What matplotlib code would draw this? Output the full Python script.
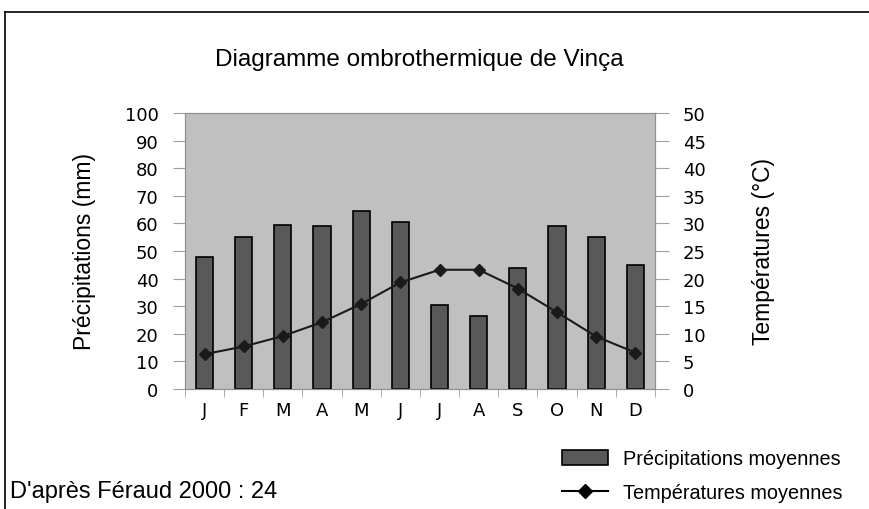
import numpy as np
import matplotlib.pyplot as plt
from matplotlib.patches import Patch
from matplotlib.lines import Line2D

plt.rcParams['font.family'] = ['Liberation Sans', 'DejaVu Sans']

months = ["J", "F", "M", "A", "M", "J", "J", "A", "S", "O", "N", "D"]
precip_mm = [48, 55, 59.5, 59, 64.5, 60.5, 30.5, 26.5, 44, 59, 55, 45]
temp_c = [6.3, 7.7, 9.6, 12.1, 15.4, 19.3, 21.6, 21.6, 18.2, 13.9, 9.5, 6.6]

wide = ['DejaVu Sans']

fig = plt.figure(figsize=(8.7, 5.1), dpi=100)
ax = fig.add_axes([0.2126, 0.2353, 0.5402, 0.5412])
x = np.arange(len(months))

ax.set_facecolor("#c0c0c0")
ax.bar(x, precip_mm, width=0.44, color="#595959", edgecolor="black", linewidth=1.2, zorder=2)
ax.set_xlim(-0.5, len(months) - 0.5)
ax.set_ylim(0, 100)
ax.set_yticks(range(0, 101, 10))
ax.set_xticks(x)
ax.set_xticklabels(months, fontsize=13, family=wide)
ax.set_xticks(np.arange(-0.5, len(months), 1), minor=True)
ax.tick_params(axis="x", which="major", length=0, pad=9)
ax.tick_params(axis="x", which="minor", length=6, color="#a0a0a0")
ax.tick_params(axis="y", length=9, color="#a0a0a0", pad=10)
for lab in ax.get_yticklabels():
    lab.set_fontsize(13)
    lab.set_family(wide)
for s in ax.spines.values():
    s.set_color("#909090")
ax.set_ylabel("Précipitations (mm)", fontsize=16.5, labelpad=21)

ax2 = ax.twinx()
ax2.plot(x, temp_c, color="#1a1a1a", linewidth=1.5, marker="D", markersize=6,
         markerfacecolor="#1a1a1a", zorder=3)
ax2.set_ylim(0, 50)
ax2.set_yticks(range(0, 51, 5))
ax2.tick_params(axis="y", length=10, color="#a0a0a0", pad=10)
for lab in ax2.get_yticklabels():
    lab.set_fontsize(13)
    lab.set_family(wide)
for s in ax2.spines.values():
    s.set_color("#909090")
ax2.set_ylabel("Températures (°C)", fontsize=16.5, labelpad=33)

fig.text(0.482, 0.882, "Diagramme ombrothermique de Vinça", fontsize=17.5, ha="center", va="center")

# outer frame
fig.add_artist(Line2D([0.006, 1.0], [0.974, 0.974], color="black", linewidth=1.2))
fig.add_artist(Line2D([0.006, 0.006], [0.0, 0.974], color="black", linewidth=1.2))

handles = [Patch(facecolor="#595959", edgecolor="black", linewidth=1.2),
           Line2D([0], [0], color="black", linewidth=1.5, marker="D", markersize=7)]
fig.legend(handles, ["Précipitations moyennes", "Températures moyennes"],
           loc="upper left", bbox_to_anchor=(562 / 870, 1 - 450 / 510), frameon=False,
           fontsize=14.3, handlelength=2.3, handleheight=0.8, handletextpad=0.75,
           labelspacing=0.75, borderpad=0, borderaxespad=0)

fig.text(0.012, 0.036, "D'après Féraud 2000 : 24", fontsize=17, ha="left", va="center")

fig.savefig("out.png", dpi=100)
